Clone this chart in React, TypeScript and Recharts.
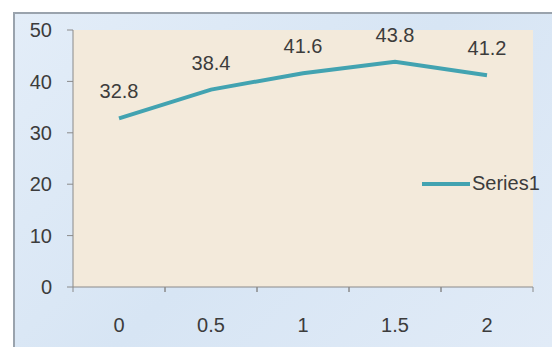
import React from 'react'

//* Recharts
import { CartesianGrid, LabelList, Line, LineChart, XAxis, YAxis } from 'recharts'

const categories = ['0', '0.5', '1', '1.5', '2']
const series1 = [32.8, 38.4, 41.6, 43.8, 41.2]
const yTicks = [0, 10, 20, 30, 40, 50]

const data = categories.map((c, i) => ({ x: c, Series1: series1[i] }))

const textColor = '#3c3c3c'
const axisColor = '#8a8a8a'
const lineColor = '#42a3b1'
const font = '"Liberation Sans", Arial, sans-serif'

// category label centred in the band, tick marks on band edges (Excel style)
const XTick = (props: any) => {
    const { x, y, payload } = props
    const half = payload.offset || 0
    return (
        <g>
            <line x1={x - half} x2={x - half} y1={y - 5} y2={y} stroke={axisColor} />
            <line x1={x + half} x2={x + half} y1={y - 5} y2={y} stroke={axisColor} />
            <text x={x} y={y + 35} textAnchor="middle" dominantBaseline="middle"
                fill={textColor} fontSize={20} fontFamily={font}>{payload.value}</text>
        </g>
    )
}

function App() {
    return (
        <div style={{ position: 'relative', width: 552, height: 347, background: '#fff', overflow: 'hidden' }}>
            <style>{'body{margin:0}'}</style>
            <div style={{
                position: 'absolute', left: 13, top: 12, width: 539, height: 335,
                background: 'linear-gradient(135deg, #e3edf8 0%, #d7e5f4 50%, #e1ebf7 100%)',
                borderLeft: '2px solid #9aa3ad', borderTop: '2px solid #9aa3ad', boxSizing: 'border-box'
            }} />
            <div style={{ position: 'absolute', left: 0, top: 0 }}>
                <LineChart width={552} height={347} data={data}
                    margin={{ top: 30, right: 19, left: 13, bottom: 0 }}>
                    <CartesianGrid horizontal={false} vertical={false} fill="#f3eadb" />
                    <XAxis dataKey="x" scale="band" height={60} stroke={axisColor} tickSize={5} tickMargin={0}
                        tickLine={false} tick={<XTick />} interval={0} />
                    <YAxis width={60} domain={[0, 50]} ticks={yTicks} stroke={axisColor}
                        tickSize={6} tickMargin={15}
                        tick={{ fill: textColor, fontSize: 20, fontFamily: font }} />
                    <Line dataKey="Series1" stroke={lineColor} strokeWidth={4} dot={false}
                        isAnimationActive={false}>
                        <LabelList dataKey="Series1" position="top" offset={20}
                            fill={textColor} fontSize={20} fontFamily={font} />
                    </Line>
                </LineChart>
            </div>
            <div style={{
                position: 'absolute', left: 422, top: 172, display: 'flex', alignItems: 'center',
                fontFamily: font, fontSize: 20, color: textColor
            }}>
                <svg width={50} height={10}>
                    <line x1={0} x2={48} y1={5} y2={5} stroke={lineColor} strokeWidth={4} />
                </svg>
                <span>Series1</span>
            </div>
        </div>
    )
}

export default App
